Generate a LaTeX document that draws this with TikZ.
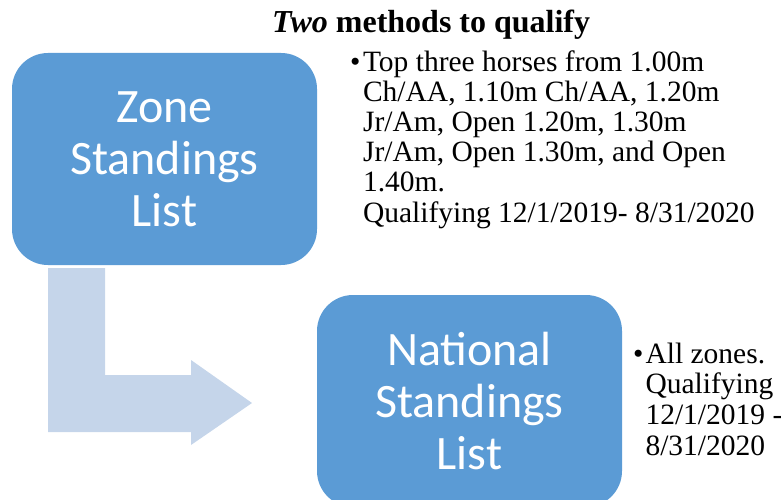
\documentclass[tikz,border=0pt]{standalone}
\usepackage{fontspec}
\setmainfont{Liberation Serif}
\newfontfamily\boxfont{Carlito}
\usetikzlibrary{positioning}
\definecolor{boxblue}{HTML}{5B9BD5}
\definecolor{arrowpale}{HTML}{C5D5EA}

\begin{document}
\begin{tikzpicture}[
    x=1pt, y=-1pt,
    every node/.style={inner sep=0pt},
    stand/.style={fill=boxblue, rounded corners=36pt, minimum width=305pt, align=center, text=white, font=\boxfont\fontsize{48}{52}\selectfont},
    notes/.style={anchor=base west, font=\fontsize{29.5}{30}\selectfont}
]
\useasboundingbox (0,0) rectangle (781,500);

% bent arrow between the two lists
\fill[arrowpale] (48,268) -- (105,268) -- (105,375) -- (191,375) -- (191,360)
    -- (252,403) -- (191,445) -- (191,432) -- (48,432) -- cycle;

\node[stand, minimum height=212pt] (zone) at (164.5,159) {Zone\\Standings\\List};
\node[stand, minimum height=212pt] (natl) at (469.5,401) {National\\Standings\\List};

\node[anchor=base west, font=\bfseries\fontsize{32}{36}\selectfont] (title) at (272,33) {\textit{Two} methods to qualify};

\node[notes] (zonenote) at (350,72) {\begin{tabular}[t]{@{}l@{\hspace{2.5pt}}l@{}}
\textbullet & Top three horses from 1.00m\\
 & Ch/AA, 1.10m Ch/AA, 1.20m\\
 & Jr/Am, Open 1.20m, 1.30m\\
 & Jr/Am, Open 1.30m, and Open\\
 & 1.40m.\\[1pt]
 & Qualifying 12/1/2019- 8/31/2020
\end{tabular}};

\node[notes, font=\fontsize{29.5}{30.7}\selectfont] (natlnote) at (633,363) {\begin{tabular}[t]{@{}l@{\hspace{2pt}}l@{}}
\textbullet & All zones.\\
 & Qualifying\\
 & 12/1/2019 -\\
 & 8/31/2020
\end{tabular}};

\end{tikzpicture}
\end{document}
